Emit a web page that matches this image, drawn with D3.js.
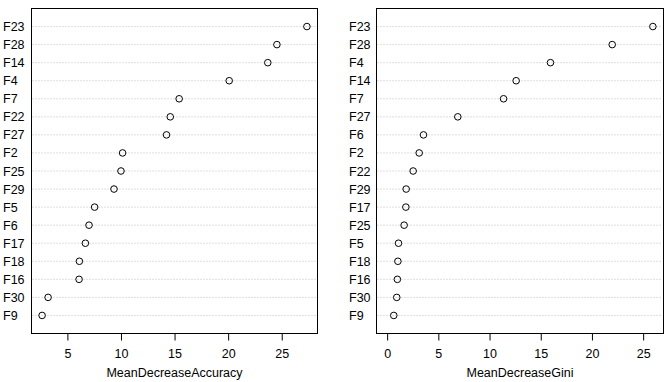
<!DOCTYPE html>
<html>
<head>
<meta charset="utf-8">
<script src="https://cdn.jsdelivr.net/npm/d3@7"></script>
<style>
  body { margin: 0; background: #fff; }
  text { font-family: "Liberation Sans", Arial, sans-serif; fill: #000; }
</style>
</head>
<body>
<div id="chart"></div>
<script>
// variable importance, top to bottom as shown
var accLabels = ["F23", "F28", "F14", "F4", "F7", "F22", "F27", "F2", "F25", "F29", "F5", "F6", "F17", "F18", "F16", "F30", "F9"];
var accValues = [27.35, 24.55, 23.7, 20.1, 15.43, 14.6, 14.25, 10.15, 10.0, 9.35, 7.54, 7.02, 6.68, 6.12, 6.09, 3.2, 2.64];
var accTicks = [5, 10, 15, 20, 25];

var giniLabels = ["F23", "F28", "F4", "F14", "F7", "F27", "F6", "F2", "F22", "F29", "F17", "F25", "F5", "F18", "F16", "F30", "F9"];
var giniValues = [25.95, 21.98, 15.95, 12.6, 11.37, 6.9, 3.55, 3.13, 2.54, 1.86, 1.83, 1.66, 1.11, 1.05, 1.0, 0.94, 0.65];
var giniTicks = [0, 5, 10, 15, 20, 25];

var width = 670, height = 382;

var svg = d3.select("#chart")
    .append("svg")
    .attr("width", width)
    .attr("height", height);

// one dotchart panel, R style
function drawPanel(opts) {
    var n = opts.labels.length;
    var xmin = opts.fromZero ? 0 : d3.min(opts.values);
    var xmax = d3.max(opts.values);
    var pad = (xmax - xmin) * 0.04;

    var x = d3.scaleLinear()
        .domain([xmin - pad, xmax + pad])
        .range([opts.left, opts.right]);

    var y = d3.scaleLinear()
        .domain([0, n + 1])
        .range([opts.bottom, opts.top]);

    var g = svg.append("g");

    // dotted guide lines
    g.selectAll(".guide")
        .data(opts.values)
        .enter().append("line")
        .attr("x1", opts.left + 1)
        .attr("x2", opts.right - 1)
        .attr("y1", function (d, i) { return y(n - i); })
        .attr("y2", function (d, i) { return y(n - i); })
        .attr("stroke", "#bebebe")
        .attr("stroke-width", 1)
        .attr("stroke-dasharray", "1,2");

    // points
    g.selectAll(".pt")
        .data(opts.values)
        .enter().append("circle")
        .attr("cx", function (d) { return x(d); })
        .attr("cy", function (d, i) { return y(n - i); })
        .attr("r", 3.3)
        .attr("fill", "none")
        .attr("stroke", "#000")
        .attr("stroke-width", 1);

    // labels
    g.selectAll(".lab")
        .data(opts.labels)
        .enter().append("text")
        .attr("x", opts.labelX)
        .attr("y", function (d, i) { return y(n - i); })
        .attr("dy", "0.36em")
        .style("font-size", "12.5px")
        .text(function (d) { return d; });

    // box
    g.append("rect")
        .attr("x", opts.left)
        .attr("y", opts.top)
        .attr("width", opts.right - opts.left)
        .attr("height", opts.bottom - opts.top)
        .attr("fill", "none")
        .attr("stroke", "#000")
        .attr("stroke-width", 1);

    // x axis
    var axis = g.append("g")
        .attr("transform", "translate(0," + opts.bottom + ")")
        .call(d3.axisBottom(x).tickValues(opts.ticks).tickSize(7).tickPadding(9).tickFormat(d3.format("d")));
    axis.select(".domain").remove();
    axis.selectAll("line").attr("stroke", "#000");
    axis.selectAll("text")
        .style("font-size", "12.5px")
        .style("font-family", "'Liberation Sans', Arial, sans-serif")
        .attr("fill", "#000");

    g.append("text")
        .attr("x", (opts.left + opts.right) / 2)
        .attr("y", 377)
        .attr("text-anchor", "middle")
        .style("font-size", "12.5px")
        .text(opts.title);
}

drawPanel({
    labels: accLabels, values: accValues, ticks: accTicks,
    fromZero: false, title: "MeanDecreaseAccuracy",
    left: 31.5, right: 317.5, top: 8.5, bottom: 333.5, labelX: 3
});

drawPanel({
    labels: giniLabels, values: giniValues, ticks: giniTicks,
    fromZero: true, title: "MeanDecreaseGini",
    left: 376.5, right: 663.5, top: 8.5, bottom: 333.5, labelX: 349
});
</script>
</body>
</html>
